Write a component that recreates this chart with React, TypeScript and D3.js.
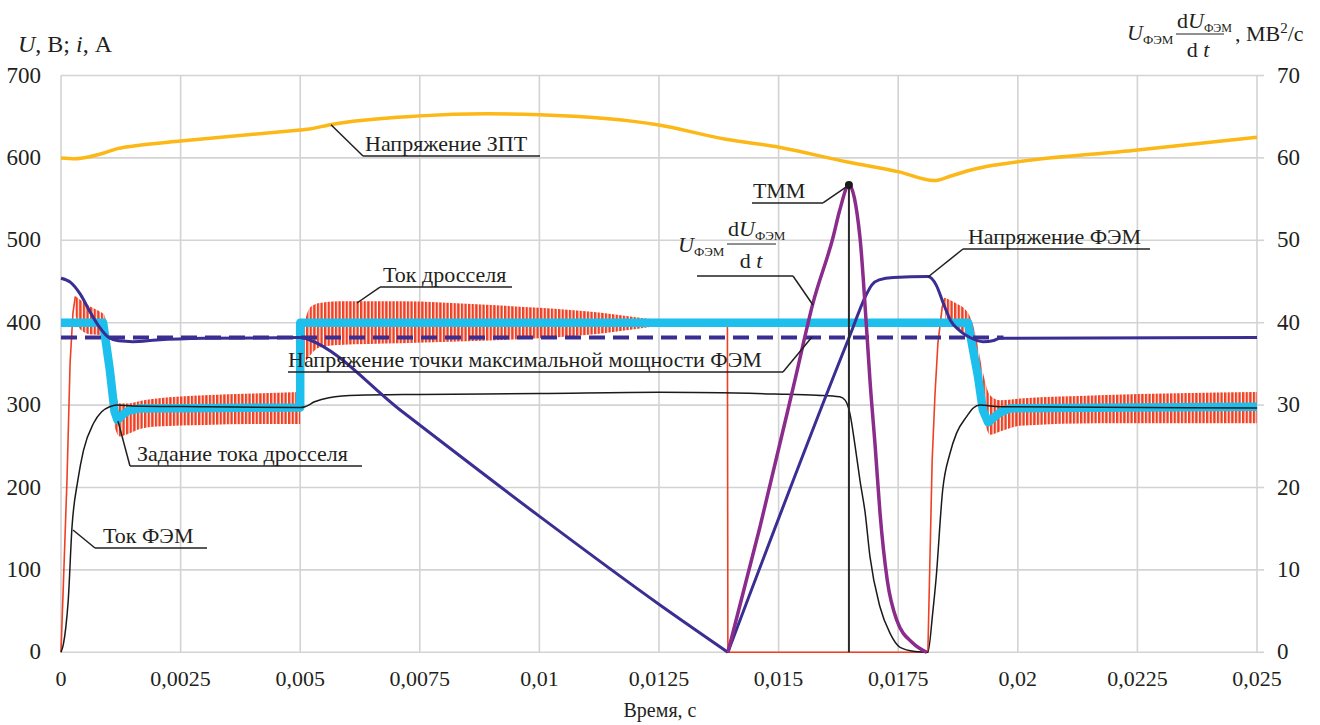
import React from 'react'
import * as d3 from 'd3'

// time axis, s
const timeTicks = [0, 0.0025, 0.005, 0.0075, 0.01, 0.0125, 0.015, 0.0175, 0.02, 0.0225, 0.025]
const timeTickLabels = ['0', '0,0025', '0,005', '0,0075', '0,01', '0,0125', '0,015', '0,0175', '0,02', '0,0225', '0,025']
const leftTicks = [0, 100, 200, 300, 400, 500, 600, 700]
const rightTicks = [0, 10, 20, 30, 40, 50, 60, 70]

// Напряжение ЗПТ, V  [t, U]
const dcLinkVoltage = [
  [0, 600], [0.0003, 599], [0.0006, 601.5], [0.0009, 606], [0.0012, 611.5], [0.0016, 615],
  [0.0025, 620.5], [0.005, 634], [0.0052, 635], [0.0056, 640], [0.0075, 651], [0.0089, 653.5],
  [0.01, 652.5], [0.0125, 640], [0.0139, 622.6], [0.01501, 613], [0.01644, 595], [0.01752, 583],
  [0.01825, 572.5], [0.0186, 578], [0.019, 585], [0.0193, 589], [0.0196, 592], [0.0225, 609.6],
  [0.025, 625]
]

// Напряжение ФЭМ, V: falling branch, then rising branch after 0.01394 s
const pvVoltageFall = [
  [0, 454], [0.0002, 449], [0.0004, 435], [0.0006, 414], [0.0008, 395], [0.001, 382],
  [0.0012, 378], [0.0015, 377], [0.002, 379], [0.003, 381], [0.005, 382], [0.0051, 381],
  [0.0052, 379], [0.00709, 294], [0.01001, 164.6], [0.01252, 57.4], [0.01394, 0]
]
const pvVoltageRise = [
  [0.01394, 0], [0.01648, 383], [0.01685, 436], [0.01695, 446], [0.0171, 452], [0.0174, 455],
  [0.01812, 456], [0.0183, 445], [0.01844, 424], [0.0186, 402], [0.01879, 390], [0.019, 382],
  [0.01927, 377], [0.0195, 378.5], [0.01963, 381], [0.025, 382]
]

// Напряжение точки максимальной мощности ФЭМ, V
const mppVoltage = [[0, 382], [0.0197, 382]]

// Задание тока дросселя, A
const currentRef = [
  [0, 400], [0.00088, 400], [0.00102, 343], [0.00112, 292], [0.00118, 282], [0.00128, 288],
  [0.0014, 293], [0.00165, 296], [0.005, 297], [0.005, 400], [0.01896, 400], [0.01917, 334],
  [0.01927, 294], [0.01938, 279], [0.0195, 285], [0.01963, 291], [0.01984, 296], [0.025, 298]
]

// Ток ФЭМ, A
const pvCurrent = [
  [0, 0], [0.00005, 10], [0.0001, 30], [0.00015, 62], [0.00023, 152], [0.00035, 208],
  [0.00047, 245], [0.00068, 278], [0.00085, 292], [0.00102, 298], [0.00116, 300], [0.0015, 299],
  [0.003, 298], [0.005, 297], [0.0051, 298], [0.0053, 304], [0.0056, 309], [0.0062, 312],
  [0.0075, 313], [0.01, 314], [0.0125, 315.5], [0.0149, 313.5], [0.0158, 312], [0.01628, 310],
  [0.01639, 306], [0.01649, 290], [0.0166, 250], [0.0167, 209], [0.01681, 169], [0.01691, 116],
  [0.01712, 55], [0.01733, 23], [0.01754, 6], [0.01785, 1], [0.01812, 0], [0.01822, 47],
  [0.01829, 88], [0.01843, 197], [0.01858, 241], [0.01872, 266], [0.01893, 286], [0.01907, 296.5],
  [0.01921, 300], [0.01963, 298], [0.025, 296.5]
]

// Ток дросселя, A: plain parts [t, i] and ripple envelopes [t, max, min]
const chokeCurrentStart = [
  [0, 0], [0.00006, 100], [0.000125, 209], [0.00019, 351], [0.00025, 412], [0.0003, 432]
]
const chokeRippleA = [
  [0.0003, 432, 410], [0.0004, 428, 392], [0.0006, 420, 386], [0.0008, 414, 385], [0.0009, 410, 380],
  [0.00102, 372, 330], [0.00113, 318, 272], [0.00123, 302, 262], [0.0014, 302, 265],
  [0.00165, 305, 271], [0.002, 308, 274], [0.003, 312, 276], [0.004, 314, 277], [0.005, 316, 277]
]
const chokeRippleB = [
  [0.00503, 382, 345], [0.0052, 418, 360], [0.0054, 424, 370], [0.0058, 426, 373], [0.0071, 426, 375],
  [0.0088, 422, 378], [0.01, 418, 381], [0.0113, 412, 387], [0.0121, 406, 393], [0.0128, 401, 399]
]
const chokeCurrentGap = [
  [0.0128, 400], [0.01393, 400], [0.01394, 0], [0.01812, 0], [0.01821, 233], [0.01827, 314],
  [0.01833, 375], [0.01842, 419], [0.01848, 430]
]
const chokeRippleC = [
  [0.01848, 430, 405], [0.0187, 424, 394], [0.01896, 412, 385], [0.0191, 390, 355], [0.01927, 340, 290],
  [0.01942, 312, 264], [0.01963, 306, 268], [0.02005, 308, 275], [0.0217, 312, 278], [0.025, 316, 278]
]

// U_ФЭМ·dU_ФЭМ/dt, MV²/s
const powerRate = [
  [0.01394, 0], [0.01461, 15.2], [0.01534, 33], [0.01572, 42.4], [0.01614, 50.4], [0.01628, 53.7],
  [0.01647, 56.7], [0.0167, 50.4], [0.01685, 38.3], [0.01691, 33], [0.01702, 24.9], [0.01712, 16.9],
  [0.01727, 8.8], [0.01747, 3.9], [0.01781, 1.1], [0.0181, 0]
]
const mppPoint = [0.01647, 56.7]

// callouts: anchor [t, U], underline from t0 to t1 at level U
const callouts = [
  { text: 'Напряжение ЗПТ', at: [0.005644, 640.2], t0: 0.006313, t1: 0.010013, level: 602.3, side: 'left', dx: 2 },
  { text: 'Ток дросселя', at: [0.006187, 423.9], t0: 0.006668, t1: 0.009427, level: 443.3, side: 'left', dx: 3 },
  { text: 'Напряжение точки максимальной мощности ФЭМ', at: [0.015698, 382.6], t0: 0.004745, t1: 0.015092, level: 340.2, side: 'right', dx: 0 },
  { text: '', at: [0.015719, 421.5], t0: 0.013294, t1: 0.015301, level: 456.7, side: 'right', dx: 0 },
  { text: 'ТММ', at: [0.01647, 567], t0: 0.014444, t1: 0.015928, level: 545.3, side: 'right', dx: 1 },
  { text: 'Напряжение ФЭМ', at: [0.018123, 455.5], t0: 0.018854, t1: 0.022763, level: 489.4, side: 'left', dx: 5 },
  { text: 'Задание тока дросселя', at: [0.001191, 280.7], t0: 0.001442, t1: 0.006292, level: 226.1, side: 'left', dx: 7 },
  { text: 'Ток ФЭМ', at: [0.000251, 148.4], t0: 0.000711, t1: 0.003052, level: 126.6, side: 'left', dx: 8 }
]

const SERIF = "'Liberation Serif', 'DejaVu Serif', serif"
const INK = '#231f20'

export default function App () {
  const width = 1320
  const height = 725
  const x = d3.scaleLinear().domain([0, 0.025]).range([61, 1257])
  const y = d3.scaleLinear().domain([0, 700]).range([652.3, 75.5])
  const y2 = d3.scaleLinear().domain([0, 70]).range([652.3, 75.5])

  const smooth = d3.line().x(d => x(d[0])).y(d => y(d[1])).curve(d3.curveMonotoneX)
  const straight = d3.line().x(d => x(d[0])).y(d => y(d[1]))
  const smoothRight = d3.line().x(d => x(d[0])).y(d => y2(d[1])).curve(d3.curveMonotoneX)
  const ripple = d3.area().x(d => x(d[0])).y0(d => y(d[2])).y1(d => y(d[1])).curve(d3.curveMonotoneX)

  return (
    <svg width={width} height={height}
      style={{ position: 'absolute', left: 0, top: 0, background: '#fff', fontFamily: SERIF }}
      fill={INK}>
      <defs>
        <pattern id='ripple' patternUnits='userSpaceOnUse' width={3.6} height={10}>
          <rect x={0} y={0} width={2.4} height={10} fill='#ef4023' />
        </pattern>
      </defs>

      {/* grid */}
      <g stroke='#d3d3d3' strokeWidth={1.6}>
        {timeTicks.map(t => <line key={'v' + t} x1={x(t)} x2={x(t)} y1={y(0)} y2={y(700)} />)}
        {leftTicks.map(v => <line key={'h' + v} x1={x(0)} x2={x(0.025)} y1={y(v)} y2={y(v)} />)}
        {rightTicks.map(v => <line key={'r' + v} x1={x(0.025)} x2={x(0.025) + 7} y1={y2(v)} y2={y2(v)} />)}
      </g>

      {/* tick labels */}
      <g fontSize={22}>
        {timeTicks.map((t, i) => (
          <text key={'tx' + t} x={x(t)} y={686} textAnchor='middle'>{timeTickLabels[i]}</text>
        ))}
        {leftTicks.map(v => <text key={'ly' + v} x={41} y={y(v) + 7} textAnchor='end' fontSize={23}>{v}</text>)}
        {rightTicks.map(v => <text key={'ry' + v} x={1277} y={y2(v) + 7} fontSize={23}>{v}</text>)}
        <text x={660} y={717} textAnchor='middle' fontSize={20}>Время, с</text>
      </g>

      {/* axis titles */}
      <text x={18} y={52} fontSize={24}>
        <tspan fontStyle='italic'>U</tspan>, В; <tspan fontStyle='italic'>i</tspan>, А
      </text>
      <g fontSize={22}>
        <text x={1127} y={40} fontStyle='italic'>U</text>
        <text x={1143} y={44} fontSize={13}>ФЭМ</text>
        <text x={1177} y={28}>d<tspan fontStyle='italic'>U</tspan><tspan fontSize={12} dy={4}>ФЭМ</tspan></text>
        <line x1={1176} x2={1224} y1={34} y2={34} stroke={INK} strokeWidth={1} />
        <text x={1198} y={57} textAnchor='middle'>d <tspan fontStyle='italic'>t</tspan></text>
        <text x={1235} y={41}>, МВ<tspan fontSize={15} dy={-8}>2</tspan><tspan dy={8}>/с</tspan></text>
      </g>

      {/* series */}
      <path d={smooth(dcLinkVoltage)} fill='none' stroke='#fbb817' strokeWidth={3.5} />
      <path d={straight(chokeCurrentStart)} fill='none' stroke='#ef4023' strokeWidth={1.6} />
      <path d={ripple(chokeRippleA)} fill='url(#ripple)' />
      <path d={ripple(chokeRippleB)} fill='url(#ripple)' />
      <path d={straight(chokeCurrentGap)} fill='none' stroke='#ef4023' strokeWidth={1.6} />
      <path d={ripple(chokeRippleC)} fill='url(#ripple)' />
      <path d={straight(currentRef)} fill='none' stroke='#1dc0ec' strokeWidth={8.5} strokeLinejoin='round' />
      <path d={smooth(pvCurrent)} fill='none' stroke='#1a1a1a' strokeWidth={1.5} />
      <path d={straight(mppVoltage)} fill='none' stroke='#3a2e93' strokeWidth={4} strokeDasharray='16 8' />
      <path d={smooth(pvVoltageFall)} fill='none' stroke='#3a2e93' strokeWidth={3} />
      <path d={smooth(pvVoltageRise)} fill='none' stroke='#3a2e93' strokeWidth={3} />
      <path d={smoothRight(powerRate)} fill='none' stroke='#8b2b8c' strokeWidth={3.5} />
      <line x1={x(mppPoint[0])} x2={x(mppPoint[0])} y1={y2(0)} y2={y2(mppPoint[1])} stroke='#2a2a2a' strokeWidth={2} />
      <circle cx={x(mppPoint[0])} cy={y2(mppPoint[1])} r={4} fill='#1a1a1a' />

      {/* callouts */}
      <g fontSize={22}>
        {callouts.map((c, i) => {
          const ly = y(c.level)
          const ex = c.side === 'left' ? x(c.t0) : x(c.t1)
          return (
            <g key={'c' + i}>
              <line x1={x(c.at[0])} y1={y(c.at[1])} x2={ex} y2={ly} stroke={INK} strokeWidth={1.5} />
              <line x1={x(c.t0)} x2={x(c.t1)} y1={ly} y2={ly} stroke={INK} strokeWidth={1.5} />
              {c.text && <text x={x(c.t0) + c.dx} y={ly - 5}>{c.text}</text>}
            </g>
          )
        })}
        <text x={678} y={252} fontStyle='italic'>U</text>
        <text x={694} y={256} fontSize={13}>ФЭМ</text>
        <text x={728} y={236}>d<tspan fontStyle='italic'>U</tspan><tspan fontSize={13} dy={4}>ФЭМ</tspan></text>
        <line x1={727} x2={776} y1={244} y2={244} stroke={INK} strokeWidth={1} />
        <text x={751} y={268} textAnchor='middle'>d <tspan fontStyle='italic'>t</tspan></text>
      </g>
    </svg>
  )
}
